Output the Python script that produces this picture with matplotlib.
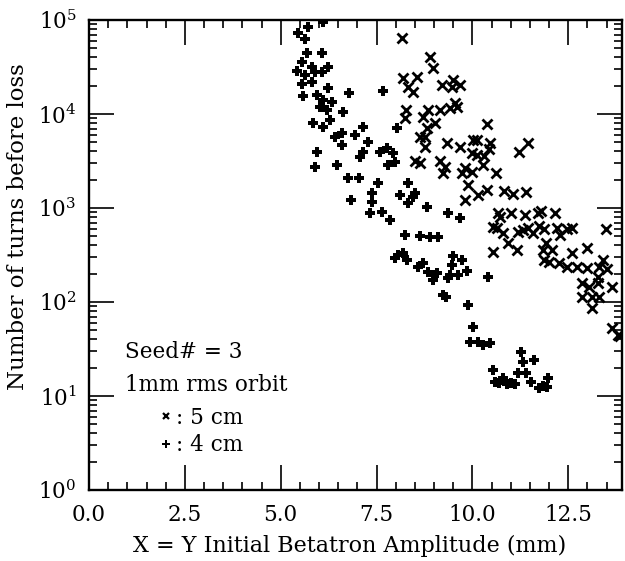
import numpy as np
import matplotlib
matplotlib.use("Agg")
import matplotlib.pyplot as plt
from matplotlib.ticker import MultipleLocator, FormatStrFormatter, LogLocator, NullFormatter

plt.rcParams['font.family'] = 'DejaVu Serif'
plt.rcParams['mathtext.fontset'] = 'dejavuserif'

# 5 cm (x markers)
amp_5cm = [8.16, 8.89, 8.97, 8.18, 8.55, 8.32, 8.45, 9.20, 9.49, 9.46, 9.67, 8.26, 8.24, 8.71,
           8.84, 9.02, 9.15, 9.54, 9.41, 9.59, 8.81, 8.63, 8.76, 8.76, 9.33, 9.67, 10.01, 9.98,
           10.11, 8.50, 8.63, 9.15, 9.28, 9.23, 9.72, 9.80, 9.98, 9.88, 9.80, 10.14, 10.38,
           10.38, 10.11, 10.45, 10.43, 10.30, 10.27, 10.61, 10.82, 11.05, 11.39, 11.21, 11.44,
           10.66, 10.71, 11.02, 11.36, 11.70, 11.78, 12.15, 10.53, 10.63, 10.79, 11.18, 11.31,
           11.44, 11.57, 11.75, 11.88, 12.22, 12.46, 12.61, 12.28, 13.48, 10.92, 11.16, 10.53,
           11.93, 11.83, 12.09, 12.59, 13.00, 11.88, 12.01, 12.27, 12.46, 12.72, 12.98, 13.31,
           13.52, 13.40, 13.27, 13.63, 12.87, 13.05, 13.27, 12.85, 13.11, 13.31, 13.13, 13.65,
           13.79, 13.85]
turns_5cm = [6.4e4, 4.0e4, 3.1e4, 2.4e4, 2.5e4, 1.94e4, 1.71e4, 2.04e4, 2.3e4, 1.94e4, 2.04e4,
             1.1e4, 9.1e3, 9.3e3, 1.1e4, 8.0e3, 1.1e4, 1.31e4, 1.16e4, 1.19e4, 7.1e3, 5.7e3,
             5.7e3, 4.46e3, 4.9e3, 4.46e3, 5.3e3, 3.85e3, 3.66e3, 3.2e3, 3.0e3, 3.2e3, 2.7e3,
             2.36e3, 2.36e3, 2.67e3, 2.4e3, 1.76e3, 1.22e3, 1.37e3, 1.55e3, 7.8e3, 5.3e3, 4.9e3,
             4.2e3, 3.6e3, 2.9e3, 2.36e3, 1.52e3, 1.41e3, 1.48e3, 3.9e3, 4.9e3, 885, 802, 885,
             843, 885, 929, 885, 628, 613, 542, 555, 583, 613, 542, 644, 598, 613, 598, 613, 516,
             598, 424, 357, 340, 424, 357, 357, 332, 375, 280, 267, 260, 236, 236, 230, 236, 225,
             280, 184, 144, 159, 144, 159, 113, 113, 113, 86, 53, 44.6, 43]

# 4 cm (asterisk markers)
amp_4cm = [5.45, 5.71, 5.63, 6.10, 5.68, 6.07, 5.55, 5.81, 5.42, 5.89, 6.23, 5.63, 6.07, 5.55,
           5.81, 6.23, 5.58, 5.94, 6.10, 6.33, 6.02, 6.20, 6.62, 6.78, 7.66, 5.84, 6.28, 6.10,
           7.14, 6.41, 6.60, 6.93, 6.60, 7.27, 8.03, 5.94, 7.14, 7.07, 7.59, 7.77, 7.92, 7.79,
           7.98, 5.89, 6.47, 6.75, 7.04, 7.53, 7.38, 8.32, 8.11, 8.45, 8.32, 8.50, 6.83, 7.38,
           8.81, 7.33, 7.64, 7.85, 9.36, 9.67, 8.24, 8.63, 8.89, 9.10, 8.18, 8.29, 8.58, 8.71,
           8.84, 8.97, 9.07, 8.97, 9.36, 9.41, 9.49, 9.73, 9.46, 9.62, 9.85, 8.05, 7.97, 9.23,
           10.40, 9.88, 10.01, 9.93, 10.14, 10.27, 10.45, 11.28, 11.31, 11.62, 10.53, 10.58,
           10.79, 11.02, 11.18, 11.41, 11.54, 11.75, 11.94, 11.97, 10.70, 10.90, 11.10, 11.85,
           9.30]
turns_4cm = [7.3e4, 8.4e4, 6.3e4, 9.5e4, 4.5e4, 4.5e4, 3.6e4, 3.2e4, 2.9e4, 2.8e4, 3.2e4, 2.6e4,
             2.8e4, 2.1e4, 2.2e4, 1.9e4, 1.55e4, 1.6e4, 1.4e4, 1.34e4, 1.19e4, 1.1e4, 1.05e4,
             1.67e4, 1.76e4, 8.0e3, 8.6e3, 7.3e3, 7.3e3, 5.7e3, 6.3e3, 6.0e3, 4.7e3, 5.0e3,
             7.1e3, 3.9e3, 3.9e3, 3.5e3, 3.9e3, 4.3e3, 3.85e3, 2.9e3, 3.1e3, 2.7e3, 2.9e3, 2.1e3,
             2.1e3, 1.85e3, 1.45e3, 1.85e3, 1.37e3, 1.31e3, 1.13e3, 1.45e3, 1.22e3, 1.16e3,
             1.03e3, 885, 906, 745, 885, 783, 516, 504, 491, 491, 332, 280, 236, 260, 209, 194,
             204, 171, 180, 194, 309, 280, 248, 194, 214, 316, 294, 119, 184, 93, 54, 37.5, 37.5,
             34.9, 36.6, 29.4, 23, 24, 18.9, 14.1, 15.5, 13.7, 17.6, 17.6, 14.1, 12.2, 12.5, 15.5,
             13.6, 13.4, 13.3, 12.8, 112]

fig = plt.figure(figsize=(6.25, 5.61), dpi=100)
ax = fig.add_axes([0.1424, 0.1266, 0.8526, 0.8377])

ax.plot(amp_5cm, turns_5cm, linestyle='', marker='x', ms=7, mew=2.0, color='k')
ax.plot(amp_4cm, turns_4cm, linestyle='', marker='P', ms=7, mew=0, color='k')

ax.set_yscale('log')
ax.set_xlim(0, 13.9)
ax.set_ylim(1, 1e5)
ax.xaxis.set_major_locator(MultipleLocator(2.5))
ax.xaxis.set_minor_locator(MultipleLocator(0.5))
ax.xaxis.set_major_formatter(FormatStrFormatter('%.1f'))
ax.yaxis.set_major_locator(LogLocator(base=10, numticks=10))
ax.yaxis.set_minor_locator(LogLocator(base=10, subs=np.arange(2, 10), numticks=20))
ax.yaxis.set_minor_formatter(NullFormatter())

ax.tick_params(which='both', direction='in', top=True, right=True, width=1.2, labelsize=15.5)
ax.tick_params(axis='x', pad=10)
ax.tick_params(axis='y', pad=9)
ax.tick_params(which='major', length=18)
ax.tick_params(which='minor', length=6)
for s in ax.spines.values():
    s.set_linewidth(1.7)

ax.set_xlabel('X = Y Initial Betatron Amplitude (mm)', fontsize=16)
ax.set_ylabel('Number of turns before loss', fontsize=16.5)
ax.xaxis.set_label_coords(0.49, -0.095)
ax.yaxis.set_label_coords(-0.112, 0.56)

ax.text(0.0675, 0.294, 'Seed# = 3', transform=ax.transAxes, fontsize=15.5, va='center')
ax.text(0.0675, 0.223, '1mm rms orbit', transform=ax.transAxes, fontsize=15.5, va='center')
ax.plot([0.145], [0.158], transform=ax.transAxes, linestyle='', marker='x', ms=4.5, mew=1.6, color='k')
ax.text(0.163, 0.153, ': 5 cm', transform=ax.transAxes, fontsize=15.5, va='center')
ax.plot([0.145], [0.098], transform=ax.transAxes, linestyle='', marker='P', ms=6, mew=0, color='k')
ax.text(0.163, 0.096, ': 4 cm', transform=ax.transAxes, fontsize=15.5, va='center')

fig.savefig('out.png', dpi=100)
